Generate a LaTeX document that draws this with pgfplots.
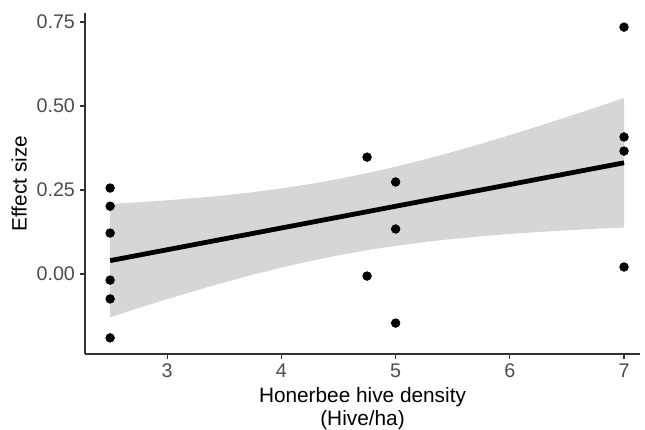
\documentclass[border=0pt]{standalone}
\usepackage{pgfplots}
\pgfplotsset{compat=1.18}
\usepackage{fontspec}
\setmainfont{Liberation Sans}
\definecolor{tickgrey}{HTML}{4D4D4D}
\definecolor{axgrey}{HTML}{333333}
\definecolor{ribbon}{HTML}{999999}
\begin{document}
\begin{tikzpicture}
\begin{axis}[name=ax,
  scale only axis, width=416.25pt, height=255.75pt,
  xmin=2.28, xmax=7.14, ymin=-0.238, ymax=0.777,
  axis x line*=bottom, axis y line*=left,
  axis line style={axgrey, line width=1pt},
  every outer x axis line/.append style={-}, every outer y axis line/.append style={-},
  xtick={3,4,5,6,7}, ytick={0,0.25,0.5,0.75},
  yticklabel style={/pgf/number format/fixed,/pgf/number format/fixed zerofill,/pgf/number format/precision=2, xshift=0pt},
  /pgf/number format/assume math mode=true,
  tick style={axgrey, line width=1pt},
  tick align=outside, major tick length=4pt,
  ticklabel style={font=\fontsize{14.8}{17}\selectfont, text=tickgrey},
  xlabel={Honerbee hive density\\(Hive/ha)},
  xlabel style={font=\fontsize{15.6}{17.5}\selectfont, align=center, yshift=0pt},
  ylabel={Effect size},
  ylabel style={font=\fontsize{15.6}{18}\selectfont, yshift=0.5pt},
  clip=false,
]
\addplot[only marks, mark=*, mark size=3.3pt, black] coordinates {
 (2.5,0.256) (2.5,0.202) (2.5,0.122) (2.5,-0.018) (2.5,-0.074) (2.5,-0.190)
 (4.75,0.348) (4.75,-0.006)
 (5,0.274) (5,0.134) (5,-0.146)
 (7,0.735) (7,0.408) (7,0.366) (7,0.021)
};
\addplot[fill=ribbon, fill opacity=0.4, draw=none] coordinates {
 (2.5,0.2087) (2.75,0.2137) (3.0,0.2195) (3.25,0.2263) (3.5,0.2342) (3.75,0.2437)
 (4.0,0.2549) (4.25,0.2679) (4.5,0.2830) (4.75,0.3003) (5.0,0.3196) (5.25,0.3407)
 (5.5,0.3636) (5.75,0.3881) (6.0,0.4136) (6.25,0.4401) (6.5,0.4675) (6.75,0.4954) (7.0,0.5240)
 (7.0,0.1384) (6.75,0.1346) (6.5,0.1301) (6.25,0.1251) (6.0,0.1194) (5.75,0.1125)
 (5.5,0.1046) (5.25,0.0951) (5.0,0.0840) (4.75,0.0709) (4.5,0.0558) (4.25,0.0385)
 (4.0,0.0193) (3.75,-0.0019) (3.5,-0.0248) (3.25,-0.0493) (3.0,-0.0747) (2.75,-0.1013) (2.5,-0.1287)
} -- cycle;
\addplot[black, line width=3.6pt] coordinates {(2.5,0.040) (7,0.3312)};
\end{axis}
\pgfresetboundingbox
\path (ax.south west) ++(-63.75pt,-56.25pt) coordinate (bl);
\path (ax.north east) ++(3.75pt,9.75pt) coordinate (tr);
\path (bl) rectangle (tr);
\end{tikzpicture}
\end{document}
